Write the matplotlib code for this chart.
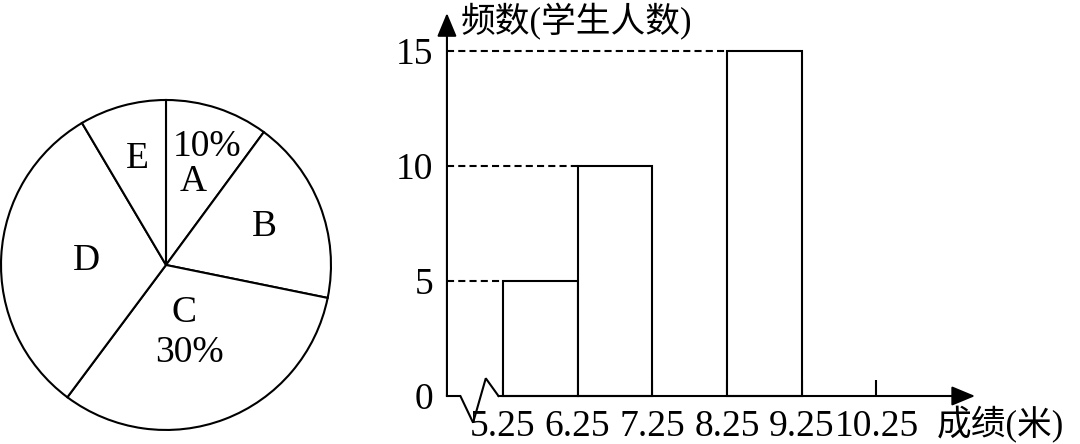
import numpy as np
import matplotlib.pyplot as plt

# 扇形统计图：各扇形大小按图中读取（%），另有两处文字标注
pie_labels = ['A', 'B', 'C', 'D', 'E']
pie_share = [10.1, 18.1, 32.0, 31.3, 8.5]
pie_pct_text = {'A': '10%', 'C': '30%'}

# 频数分布直方图
bin_edges = [5.25, 6.25, 7.25, 8.25, 9.25, 10.25]
bin_labels = ['5.25', '6.25', '7.25', '8.25', '9.25', '10.25']
bar_left = [5.25, 6.25, 8.25]
bar_count = [5, 10, 15]
y_ticks = [0, 5, 10, 15]
y_title = '频数(学生人数)'
x_title = '成绩(米)'

plt.rcParams['font.family'] = ['Liberation Serif', 'Noto Sans CJK SC']
fs = 27
fs_cjk = 25
lw = 1.5

fig = plt.figure(figsize=(10.8, 4.44), dpi=100)

# ---- 左：扇形图 ----
ax1 = fig.add_axes([-0.0067, 0.0130, 0.3208, 0.7804])
wedges, _ = ax1.pie(pie_share, startangle=90, counterclock=False, radius=1,
                    wedgeprops=dict(facecolor='white', edgecolor='black', linewidth=lw))
for w in wedges:
    w.set_clip_on(False)
ax1.set_xlim(-1.05, 1.05)
ax1.set_ylim(-1.05, 1.05)

# 标签放在各扇形中线方向上
letter_r = {'A': 0.53, 'B': 0.64, 'C': 0.31, 'D': 0.48, 'E': 0.67}
pct_r = {'A': 0.76, 'C': 0.55}
pct_shift = {'A': -1, 'C': -6}
for w, name in zip(wedges, pie_labels):
    mid = (w.theta1 + w.theta2) / 2
    r = letter_r[name]
    a = np.deg2rad(mid)
    ax1.text(r * np.cos(a), r * np.sin(a), name, fontsize=fs,
             ha='center', va='center')
    if name in pie_pct_text:
        r = pct_r[name]
        a = np.deg2rad(mid + pct_shift[name])
        ax1.text(r * np.cos(a), r * np.sin(a), pie_pct_text[name],
                 fontsize=fs, ha='center', va='center')

# ---- 右：直方图 ----
ax2 = fig.add_axes([0.4, 0.0304, 0.5326, 0.9583])
ax2.set_xlim(4.3, 12.0)
ax2.set_ylim(-1.5, 17)
axis_x = 4.5

ax2.bar(bar_left, bar_count, width=1, align='edge', facecolor='white',
        edgecolor='black', linewidth=lw, zorder=3)
for left, h in zip(bar_left, bar_count):
    ax2.plot([axis_x, left], [h, h], color='black', lw=lw,
             linestyle=(0, (3.4, 2)), dash_capstyle='butt')

# 坐标轴折线（断开符号）和箭头
ax2.plot([axis_x, 4.68, 4.85, 5.02, 5.19], [0, 0, -1.16, 0.77, 0],
         color='black', lw=lw, solid_joinstyle='miter', clip_on=False)
arrow = dict(arrowstyle='-|>,head_length=0.6,head_width=0.25', lw=lw,
             color='black', mutation_scale=24, shrinkA=0, shrinkB=0)
ax2.annotate('', xy=(axis_x, 16.65), xytext=(axis_x, 0), arrowprops=arrow)
ax2.annotate('', xy=(11.57, 0), xytext=(5.19, 0), arrowprops=arrow)

for side in ['top', 'right']:
    ax2.spines[side].set_visible(False)
ax2.spines['left'].set_position(('data', axis_x))
ax2.spines['bottom'].set_position(('data', 0))
ax2.spines['left'].set_visible(False)
ax2.spines['bottom'].set_visible(False)

ax2.set_xticks(bin_edges, bin_labels)
ax2.tick_params(axis='x', direction='in', length=11.5, width=lw, pad=10,
                labelsize=fs)
ax2.set_yticks(y_ticks, [str(v) for v in y_ticks])
ax2.tick_params(axis='y', length=0, pad=10, labelsize=fs)
ax2.patch.set_alpha(0)

ax2.text(4.68, 15.8, y_title, fontsize=fs_cjk, ha='left', va='baseline')
ax2.text(11.06, -1.7, x_title, fontsize=fs_cjk, ha='left', va='baseline')

fig.savefig('out.png', dpi=100)
plt.close()
